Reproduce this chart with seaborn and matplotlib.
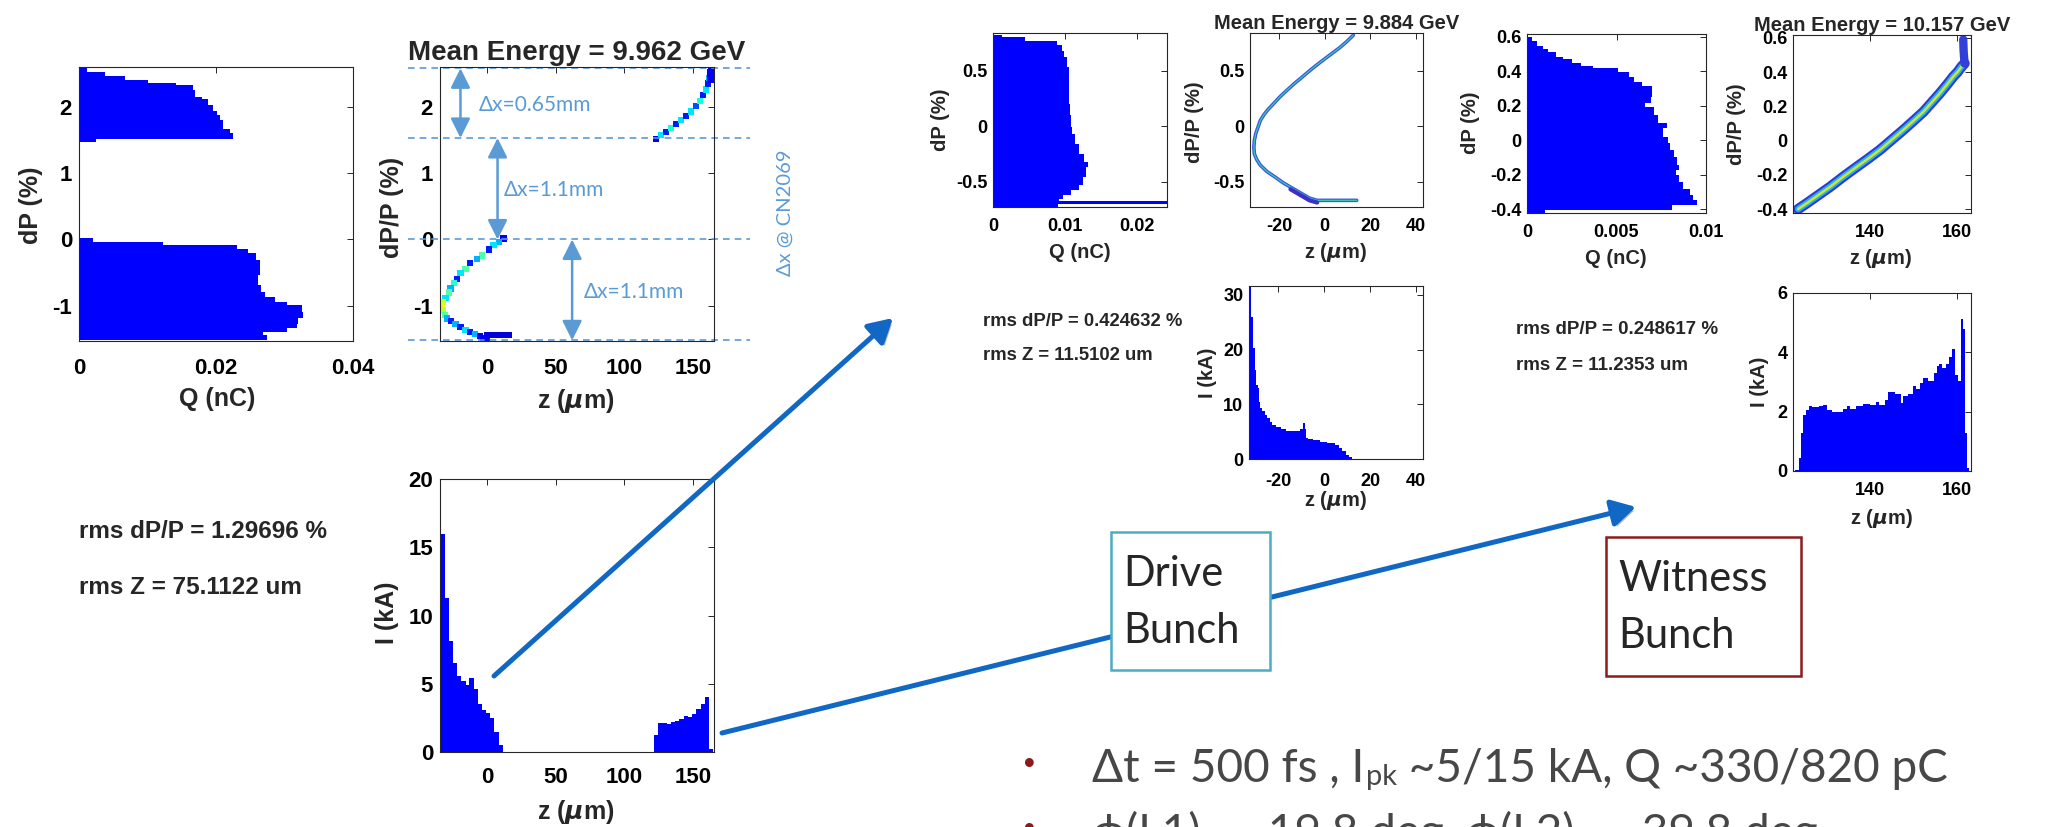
import numpy as np
import matplotlib
matplotlib.use("Agg")
import matplotlib.pyplot as plt
import matplotlib.patheffects as pe
from matplotlib import transforms
from matplotlib.patches import Rectangle
import seaborn as sns

# ==========================================================
# values
# ==========================================================

# --- whole beam : energy spectrum, dP (%) bin edges -> charge per bin (nC)
full_spec_hi_edges = [1.47, 1.52, 1.60, 1.67, 1.80, 1.87, 1.93, 2.02, 2.12, 2.15,
                      2.26, 2.33, 2.36, 2.41, 2.46, 2.53, 2.58]
full_spec_hi_q = [0.0025, 0.0225, 0.022, 0.021, 0.0206, 0.0201, 0.0196, 0.0189,
                  0.0179, 0.0169, 0.0167, 0.0142, 0.0101, 0.0067, 0.0038, 0.0012]
full_spec_lo_edges = [-1.52, -1.44, -1.39, -1.34, -1.27, -1.19, -1.09, -0.99, -0.94,
                      -0.87, -0.79, -0.69, -0.54, -0.31, -0.21, -0.136, -0.085, -0.035, 0.015]
full_spec_lo_q = [0.0274, 0.0269, 0.0303, 0.0318, 0.032, 0.0327, 0.0325, 0.0303, 0.0286,
                  0.0271, 0.0266, 0.0262, 0.0264, 0.0259, 0.0247, 0.023, 0.0123, 0.0021]

# --- whole beam : longitudinal phase space (z um, dP/P %, density 0..1)
full_drive_z = [12.1, 8.5, 4.8, 1.2, -3.6, -7.2, -12.1, -15.7, -19.3, -21.7, -24.2, -26.6,
                -27.8, -30.2, -31.9, -32.6, -31.9, -30.7, -29.0, -26.1, -22.9, -19.3,
                -15.7, -12.1, -8.5, -4.8, 0, 4, 8, 12, 16, -3, 0]
full_drive_dp = [0.015, -0.035, -0.085, -0.15, -0.24, -0.29, -0.36, -0.44, -0.51, -0.59,
                 -0.66, -0.74, -0.80, -0.88, -0.94, -0.99, -1.07, -1.14, -1.19, -1.23,
                 -1.27, -1.32, -1.36, -1.39, -1.43, -1.46, -1.44, -1.44, -1.44, -1.44,
                 -1.44, -1.49, -1.49]
full_drive_rho = [0.12, 0.3, 0.35, 0.15, 0.45, 0.3, 0.15, 0.45, 0.35, 0.15, 0.4, 0.3,
                  0.45, 0.35, 0.6, 0.62, 0.58, 0.45, 0.3, 0.15, 0.3, 0.15, 0.35, 0.15,
                  0.3, 0.12, 0.08, 0.08, 0.08, 0.08, 0.08, 0.1, 0.1]
full_wit_z = [123.2, 126.8, 130.4, 134.1, 137.7, 141.3, 144.9, 148.6, 152.2, 155.1,
              157.5, 159.4, 161.1, 161.8, 162.6, 163.0, 162.8, 162.8]
full_wit_dp = [1.52, 1.57, 1.62, 1.68, 1.74, 1.80, 1.86, 1.93, 2.01, 2.09, 2.18, 2.26,
               2.35, 2.44, 2.53, 2.56, 2.40, 2.48]
full_wit_rho = [0.1, 0.35, 0.15, 0.38, 0.15, 0.35, 0.15, 0.35, 0.2, 0.38, 0.15, 0.35,
                0.15, 0.3, 0.12, 0.12, 0.12, 0.12]

# --- whole beam : current profile, z bin edges (um) -> I (kA)
full_cur_drive_edges = [-33.9, -30.7, -27.8, -24.9, -21.5, -18.6, -15.5, -12.8, -9.7,
                        -6.8, -3.6, -0.7, 2.4, 5.3, 8.5, 11.4]
full_cur_drive_i = [16.0, 11.3, 8.1, 6.5, 5.6, 5.2, 4.9, 5.4, 4.6, 3.5, 3.1, 2.85,
                    2.5, 1.5, 0.5]
full_cur_wit_edges = [121.5, 124.6, 127.7, 130.8, 133.9, 137.0, 140.1, 143.2, 146.3,
                      149.4, 152.5, 155.6, 158.7, 161.8, 164.9]
full_cur_wit_i = [1.27, 2.1, 2.1, 2.07, 2.17, 2.3, 2.4, 2.65, 2.55, 2.8, 3.15, 3.55,
                  4.0, 0.2]

# --- drive bunch
drive_spec_edges = [-0.73, -0.70, -0.68, -0.66, -0.62, -0.58, -0.53, -0.46, -0.37, -0.32,
                    -0.25, -0.16, -0.07, -0.01, 0.10, 0.20, 0.41, 0.53, 0.62, 0.68, 0.73,
                    0.77, 0.80, 0.82]
drive_spec_q = [0.009, 0.0245, 0.0091, 0.0097, 0.0108, 0.0119, 0.0125, 0.0129, 0.0132,
                0.0126, 0.0119, 0.0113, 0.011, 0.0108, 0.0107, 0.0105, 0.0105, 0.0103,
                0.0099, 0.0095, 0.0088, 0.0044, 0.0012]
drive_ps_z = [12.5, 9.5, 6.7, 2.5, -1.7, -6, -10, -13.5, -16.7, -19.8, -22.5, -24.8,
              -26.7, -28.2, -29.2, -30.2, -30.8, -31, -30.8, -29.8, -28.3, -25.3, -21.7,
              -18.3, -15, -12.5, -10, -8.3, -6.7, -5, -3.3, 0, 5, 10, 14]
drive_ps_dp = [0.82, 0.76, 0.71, 0.645, 0.58, 0.51, 0.44, 0.38, 0.32, 0.26, 0.20, 0.15,
               0.10, 0.05, -0.01, -0.07, -0.13, -0.19, -0.25, -0.30, -0.35, -0.41, -0.46,
               -0.51, -0.55, -0.58, -0.61, -0.63, -0.65, -0.66, -0.67, -0.67, -0.67,
               -0.67, -0.67]
drive_cur_edges = [-33.2, -32.4, -31.7, -31.1, -30.2, -29.6, -29.0, -28.4, -27.7, -27.0,
                   -25.8, -24.7, -23.7, -22.5, -21.0, -18.8, -16.6, -12.9, -10.7, -9.2,
                   -8.4, -7.7, -7.0, -4.7, -1.8, 1.2, 4.9, 6.4, 7.9, 9.3, 10.8, 12.3]
drive_cur_i = [2.9, 32, 26, 20.3, 16.3, 13.6, 13.0, 10.5, 9.3, 8.7, 8.1, 7.5, 6.7, 6.3,
               5.9, 5.5, 5.2, 5.1, 5.4, 6.5, 5.4, 3.8, 3.7, 3.4, 3.1, 2.9, 2.6, 2.0, 1.4,
               0.8, 0.3]

# --- witness bunch
wit_spec_edges = [-0.427, -0.404, -0.379, -0.350, -0.320, -0.282, -0.243, -0.204, -0.175,
                  -0.146, -0.097, -0.058, -0.019, 0.019, 0.068, 0.097, 0.146, 0.194, 0.214,
                  0.252, 0.315, 0.340, 0.369, 0.398, 0.417, 0.431, 0.450, 0.470, 0.485,
                  0.509, 0.528, 0.544, 0.573, 0.598]
wit_spec_q = [0.001, 0.0081, 0.0095, 0.0093, 0.0091, 0.0087, 0.0085, 0.0083, 0.0085,
              0.0084, 0.0082, 0.008, 0.0079, 0.0076, 0.0078, 0.0073, 0.0071, 0.0066,
              0.0069, 0.007, 0.0064, 0.006, 0.0057, 0.0051, 0.0037, 0.003, 0.0025,
              0.002, 0.0016, 0.00118, 0.0009, 0.00058, 0.00026]
wit_ps_z = [123.3, 125.3, 128, 130.7, 133.8, 136.9, 139.6, 142.2, 144.9, 147.6, 150,
            152.3, 154.2, 156.1, 157.7, 159.2, 160.2, 161.1, 161.8]
wit_ps_dp = [-0.40, -0.366, -0.318, -0.27, -0.21, -0.153, -0.104, -0.055, 0.003, 0.061,
             0.115, 0.168, 0.222, 0.276, 0.325, 0.373, 0.40, 0.431, 0.45]
wit_head_z = [161.8, 161.6, 161.5]
wit_head_dp = [0.45, 0.52, 0.59]
wit_cur_edges = [122.6, 123.4, 124.0, 124.5, 125.0, 125.7, 126.6, 128.2, 129.1, 129.9,
                 131.2, 133.7, 134.7, 135.4, 136.6, 138.3, 140.0, 141.3, 142.1, 143.4,
                 144.2, 145.6, 147.0, 147.6, 148.8, 149.8, 150.5, 151.5, 152.2, 153.4,
                 154.7, 155.4, 156.0, 156.6, 157.6, 158.2, 158.9, 159.6, 160.4, 161.0,
                 161.4, 162.0, 162.4, 162.9]
wit_cur_i = [0.03, 0.43, 1.28, 1.9, 2.07, 2.2, 2.15, 2.18, 2.24, 2.07, 2.0, 2.09, 2.18,
             2.09, 2.18, 2.27, 2.24, 2.32, 2.24, 2.38, 2.66, 2.58, 2.3, 2.52, 2.61, 2.88,
             2.75, 2.97, 3.14, 3.03, 3.31, 3.54, 3.6, 3.48, 3.6, 3.85, 4.1, 3.25, 3.03,
             5.14, 4.8, 1.28, 0.09]

# gap levels of the dP/P spectrum and their spacing at the dispersive point
gap_levels = [2.58, 1.53, 0.0, -1.52]
gap_labels = ["Δx=0.65mm", "Δx=1.1mm", "Δx=1.1mm"]

# texts
titles = ["Mean Energy = 9.962 GeV", "Mean Energy = 9.884 GeV", "Mean Energy = 10.157 GeV"]
rms_text = [("rms dP/P = 1.29696 %", "rms Z = 75.1122 um"),
            ("rms dP/P = 0.424632 %", "rms Z = 11.5102 um"),
            ("rms dP/P = 0.248617 %", "rms Z = 11.2353 um")]

# ticks
full_q_ticks, full_q_labels = [0, 0.02, 0.04], ["0", "0.02", "0.04"]
full_dp_ticks, full_dp_labels = [-1, 0, 1, 2], ["-1", "0", "1", "2"]
full_z_ticks, full_z_labels = [0, 50, 100, 150], ["0", "50", "100", "150"]
full_i_ticks, full_i_labels = [0, 5, 10, 15, 20], ["0", "5", "10", "15", "20"]
drive_q_ticks, drive_q_labels = [0, 0.01, 0.02], ["0", "0.01", "0.02"]
drive_dp_ticks, drive_dp_labels = [-0.5, 0, 0.5], ["-0.5", "0", "0.5"]
drive_z_ticks, drive_z_labels = [-20, 0, 20, 40], ["-20", "0", "20", "40"]
drive_i_ticks, drive_i_labels = [0, 10, 20, 30], ["0", "10", "20", "30"]
wit_q_ticks, wit_q_labels = [0, 0.005, 0.01], ["0", "0.005", "0.01"]
wit_dp_ticks = [-0.4, -0.2, 0, 0.2, 0.4, 0.6]
wit_dp_labels = ["-0.4", "-0.2", "0", "0.2", "0.4", "0.6"]
wit_z_ticks, wit_z_labels = [140, 160], ["140", "160"]
wit_i_ticks, wit_i_labels = [0, 2, 4, 6], ["0", "2", "4", "6"]

# ==========================================================
# style
# ==========================================================
sns.set_theme(style="white")
plt.rcParams["font.family"] = ["Liberation Sans", "DejaVu Sans"]
plt.rcParams["font.weight"] = "bold"
plt.rcParams["axes.labelweight"] = "bold"
plt.rcParams["axes.titleweight"] = "bold"
plt.rcParams["axes.edgecolor"] = "#262626"
plt.rcParams["axes.linewidth"] = 0.8
plt.rcParams["xtick.color"] = "#262626"
plt.rcParams["ytick.color"] = "#262626"
plt.rcParams["xtick.labelcolor"] = "black"
plt.rcParams["ytick.labelcolor"] = "black"

W, H = 2049, 827
fig = plt.figure(figsize=(W / 100, H / 100), dpi=100)
fig.patch.set_facecolor("white")

SLIDE = ["Lato", "DejaVu Sans"]
LBLUE = "#5B9BD5"
ZLAB = r"z ($\mu$m)"
JET = plt.get_cmap("jet")


def panel(l, t, r, b):
    return fig.add_axes([l / W, 1 - b / H, (r - l) / W, (b - t) / H])


def spectrum(ax, edges, vals):
    e = np.array(edges)
    sns.histplot(y=(e[:-1] + e[1:]) / 2, weights=vals, bins=list(edges), element="step",
                 fill=True, color="blue", alpha=1, linewidth=0, ax=ax)


def current(ax, edges, vals):
    e = np.array(edges)
    sns.histplot(x=(e[:-1] + e[1:]) / 2, weights=vals, bins=list(edges), element="step",
                 fill=True, color="blue", alpha=1, linewidth=0, ax=ax)


def dress(ax, xlim, ylim, xt, xtl, yt, ytl, fs, xpad, ypad):
    ax.set_xlim(xlim)
    ax.set_ylim(ylim)
    ax.set_xticks(xt, xtl)
    ax.set_yticks(yt, ytl)
    ax.tick_params(direction="in", top=True, right=True, length=4, width=0.7,
                   labelsize=fs)
    ax.tick_params(axis="x", pad=xpad)
    ax.tick_params(axis="y", pad=ypad)
    for s in ax.spines.values():
        s.set_visible(True)
        s.set_linewidth(0.8)
    ax.set_facecolor("white")


def label_at(ax, which, text, cx, cy, fs):
    bb = ax.get_position()
    fx = (cx / W - bb.x0) / bb.width
    fy = ((1 - cy / H) - bb.y0) / bb.height
    if which == "x":
        ax.set_xlabel(text, fontsize=fs, va="center", ha="center")
        ax.xaxis.set_label_coords(fx, fy)
    else:
        ax.set_ylabel(text, fontsize=fs, va="center", ha="center")
        ax.yaxis.set_label_coords(fx, fy)


# ==========================================================
# whole beam (left)
# ==========================================================
axA = panel(79, 67, 353, 341)
spectrum(axA, full_spec_hi_edges, full_spec_hi_q)
spectrum(axA, full_spec_lo_edges, full_spec_lo_q)
dress(axA, (0, 0.04), (-1.53, 2.60), full_q_ticks, full_q_labels,
      full_dp_ticks, full_dp_labels, 16, 12, 5)
label_at(axA, "x", "Q (nC)", 217, 399, 18)
label_at(axA, "y", "dP (%)", 31, 205, 18)

axB = panel(440, 67, 714, 341)
sns.scatterplot(x=full_drive_z, y=full_drive_dp, hue=full_drive_rho, palette=JET,
                hue_norm=(0, 1), marker="s", s=20, linewidth=0, legend=False, ax=axB)
sns.scatterplot(x=full_wit_z, y=full_wit_dp, hue=full_wit_rho, palette=JET,
                hue_norm=(0, 1), marker="s", s=20, linewidth=0, legend=False, ax=axB)
dress(axB, (-34.2, 165.3), (-1.53, 2.60), full_z_ticks, full_z_labels,
      full_dp_ticks, full_dp_labels, 16, 12, 5)
label_at(axB, "x", ZLAB, 576, 401, 18)
label_at(axB, "y", "dP/P (%)", 392, 207, 18)
axB.set_title(titles[0], fontsize=20, pad=5)

# dispersive gaps
blend = transforms.blended_transform_factory(axB.transAxes, axB.transData)
for lev in gap_levels:
    axB.plot([-0.117, 1.131], [lev, lev], transform=blend, clip_on=False,
             color=LBLUE, lw=1.2, dashes=(4, 3))
arrow_z = [-19.3, 7.7, 62]
label_pos = [(-5.8, 2.03), (12.4, 0.74), (70.6, -0.79)]
for k in range(3):
    axB.annotate("", xy=(arrow_z[k], gap_levels[k + 1]), xytext=(arrow_z[k], gap_levels[k]),
                 arrowprops=dict(arrowstyle="<|-|>,head_length=0.7,head_width=0.35",
                                 color=LBLUE, lw=1.8, mutation_scale=17,
                                 shrinkA=0, shrinkB=0),
                 annotation_clip=False)
    axB.text(label_pos[k][0], label_pos[k][1], gap_labels[k], color=LBLUE, fontsize=15,
             family=SLIDE, weight="normal", ha="left", va="center")

axC = panel(440, 479, 714, 752)
current(axC, full_cur_drive_edges, full_cur_drive_i)
current(axC, full_cur_wit_edges, full_cur_wit_i)
dress(axC, (-34.2, 165.3), (0, 20), full_z_ticks, full_z_labels,
      full_i_ticks, full_i_labels, 16, 11, 5)
label_at(axC, "x", ZLAB, 576, 812, 18)
label_at(axC, "y", "I (kA)", 387, 613, 18)

# ==========================================================
# drive bunch (middle)
# ==========================================================
axD = panel(993, 33, 1167, 207)
spectrum(axD, drive_spec_edges, drive_spec_q)
dress(axD, (0, 0.0241), (-0.73, 0.84), drive_q_ticks, drive_q_labels,
      drive_dp_ticks, drive_dp_labels, 13, 8, 4)
label_at(axD, "x", "Q (nC)", 1080, 253, 14.5)
label_at(axD, "y", "dP (%)", 941, 120, 14.5)

axE = panel(1250, 33, 1423, 207)
sns.lineplot(x=drive_ps_z, y=drive_ps_dp, sort=False, estimator=None, color="#3B55E0",
             lw=2.6, ax=axE)
sns.lineplot(x=drive_ps_z, y=drive_ps_dp, sort=False, estimator=None, color="#3CC8B0",
             lw=0.9, ax=axE)
sns.lineplot(x=drive_ps_z[24:31], y=[v - 0.02 for v in drive_ps_dp[24:31]], sort=False,
             estimator=None, color="#3A30C8", lw=3, ax=axE)
dress(axE, (-32.7, 43), (-0.73, 0.84), drive_z_ticks, drive_z_labels,
      drive_dp_ticks, drive_dp_labels, 13, 8, 4)
label_at(axE, "x", ZLAB, 1335, 253, 14.5)
label_at(axE, "y", "dP/P (%)", 1194, 122, 14.5)
axE.set_title(titles[1], fontsize=14.5, pad=3)

axF = panel(1249, 286, 1423, 459)
current(axF, drive_cur_edges, drive_cur_i)
dress(axF, (-32.7, 43), (0, 31.6), drive_z_ticks, drive_z_labels,
      drive_i_ticks, drive_i_labels, 13, 10, 4)
label_at(axF, "x", ZLAB, 1335, 501, 14.5)
label_at(axF, "y", "I (kA)", 1207, 373, 14.5)

# ==========================================================
# witness bunch (right)
# ==========================================================
axG = panel(1527, 34, 1706, 213)
spectrum(axG, wit_spec_edges, wit_spec_q)
dress(axG, (0, 0.01), (-0.423, 0.616), wit_q_ticks, wit_q_labels,
      wit_dp_ticks, wit_dp_labels, 13, 8, 4)
label_at(axG, "x", "Q (nC)", 1616, 259, 14.5)
label_at(axG, "y", "dP (%)", 1471, 123, 14.5)

axH = panel(1793, 35, 1971, 213)
for lw, c in [(7.5, "#2E3AD6"), (4.5, "#22B4E6"), (1.8, "#D2E236")]:
    sns.lineplot(x=wit_ps_z, y=wit_ps_dp, sort=False, estimator=None, color=c, lw=lw,
                 ax=axH)
sns.lineplot(x=wit_head_z, y=wit_head_dp, sort=False, estimator=None, color="#3040D8",
             lw=6, ax=axH)
dress(axH, (122.1, 163.3), (-0.423, 0.616), wit_z_ticks, wit_z_labels,
      wit_dp_ticks, wit_dp_labels, 13, 8, 4)
label_at(axH, "x", ZLAB, 1880, 259, 14.5)
label_at(axH, "y", "dP/P (%)", 1736, 124, 14.5)
axH.set_title(titles[2], fontsize=14.5, pad=3)

axI = panel(1793, 293, 1971, 471)
current(axI, wit_cur_edges, wit_cur_i)
dress(axI, (122.1, 163.3), (0, 6), wit_z_ticks, wit_z_labels,
      wit_i_ticks, wit_i_labels, 13, 8, 4)
label_at(axI, "x", ZLAB, 1881, 518, 14.5)
label_at(axI, "y", "I (kA)", 1759, 382, 14.5)

# ==========================================================
# slide decorations (pixel coordinates, y down)
# ==========================================================
deco = fig.add_axes([0, 0, 1, 1], zorder=10)
deco.set_xlim(0, W)
deco.set_ylim(H, 0)
deco.axis("off")
deco.patch.set_alpha(0)

for (l1, l2), x, y1, y2, fs in [(rms_text[0], 79, 532, 588, 17.5),
                                (rms_text[1], 983, 322, 356, 13.3),
                                (rms_text[2], 1516, 330, 366, 13.5)]:
    deco.text(x, y1, l1, fontsize=fs, ha="left", va="center")
    deco.text(x, y2, l2, fontsize=fs, ha="left", va="center")

deco.text(785, 213, "Δx @ CN2069", rotation=90, color=LBLUE, fontsize=14.5,
          family=SLIDE, weight="normal", ha="center", va="center")

shadow = [pe.SimplePatchShadow(offset=(2, -2), alpha=0.3), pe.Normal()]
for start, tip in [((494, 676), (893, 318)), ((722, 733), (1636, 507))]:
    deco.annotate("", xy=tip, xytext=start,
                  arrowprops=dict(arrowstyle="-|>,head_length=0.8,head_width=0.45",
                                  color="#1068C4", lw=3.6, mutation_scale=18,
                                  shrinkA=0, shrinkB=0, path_effects=shadow))

for (x0, y0, w, h), ec, words in [((1111, 532, 159, 138), "#4BACC6", ("Drive", "Bunch")),
                                  ((1606, 537, 195, 139), "#8C1C1C", ("Witness", "Bunch"))]:
    deco.add_patch(Rectangle((x0, y0), w, h, facecolor="white", edgecolor=ec, lw=1.8,
                             zorder=5))
    deco.text(x0 + 12, y0 + 42, words[0], fontsize=30, family=SLIDE, weight="normal",
              ha="left", va="center", zorder=6)
    deco.text(x0 + 12, y0 + 99, words[1], fontsize=30, family=SLIDE, weight="normal",
              ha="left", va="center", zorder=6)

# bullets
GREY = "#474747"
deco.text(1029, 765, "•", color="#8B1A1A", fontsize=22, ha="center", va="center")
deco.text(1029, 830, "•", color="#8B1A1A", fontsize=22, ha="center", va="center")
t1 = deco.text(1092, 782, "Δt = 500 fs , I", fontsize=33, color=GREY, family=SLIDE,
               weight="normal", va="baseline")
t2 = deco.annotate("pk", xy=(1, 0), xycoords=t1, xytext=(1, 3.4),
                   textcoords="offset points", fontsize=21, color=GREY, family=SLIDE,
                   weight="normal", va="baseline")
deco.annotate(" ~5/15 kA, Q ~330/820 pC", xy=(1, 0), xycoords=(t2, t1),
              xytext=(0, 0), textcoords="offset points", fontsize=33, color=GREY,
              family=SLIDE, weight="normal", va="bottom")
deco.text(1092, 847, "ϕ(L1) ~ -19.8 deg, ϕ(L2) ~ -39.8 deg", fontsize=33, color=GREY,
          family=SLIDE, weight="normal", va="baseline")

fig.savefig("out.png", dpi=100, facecolor="white")
